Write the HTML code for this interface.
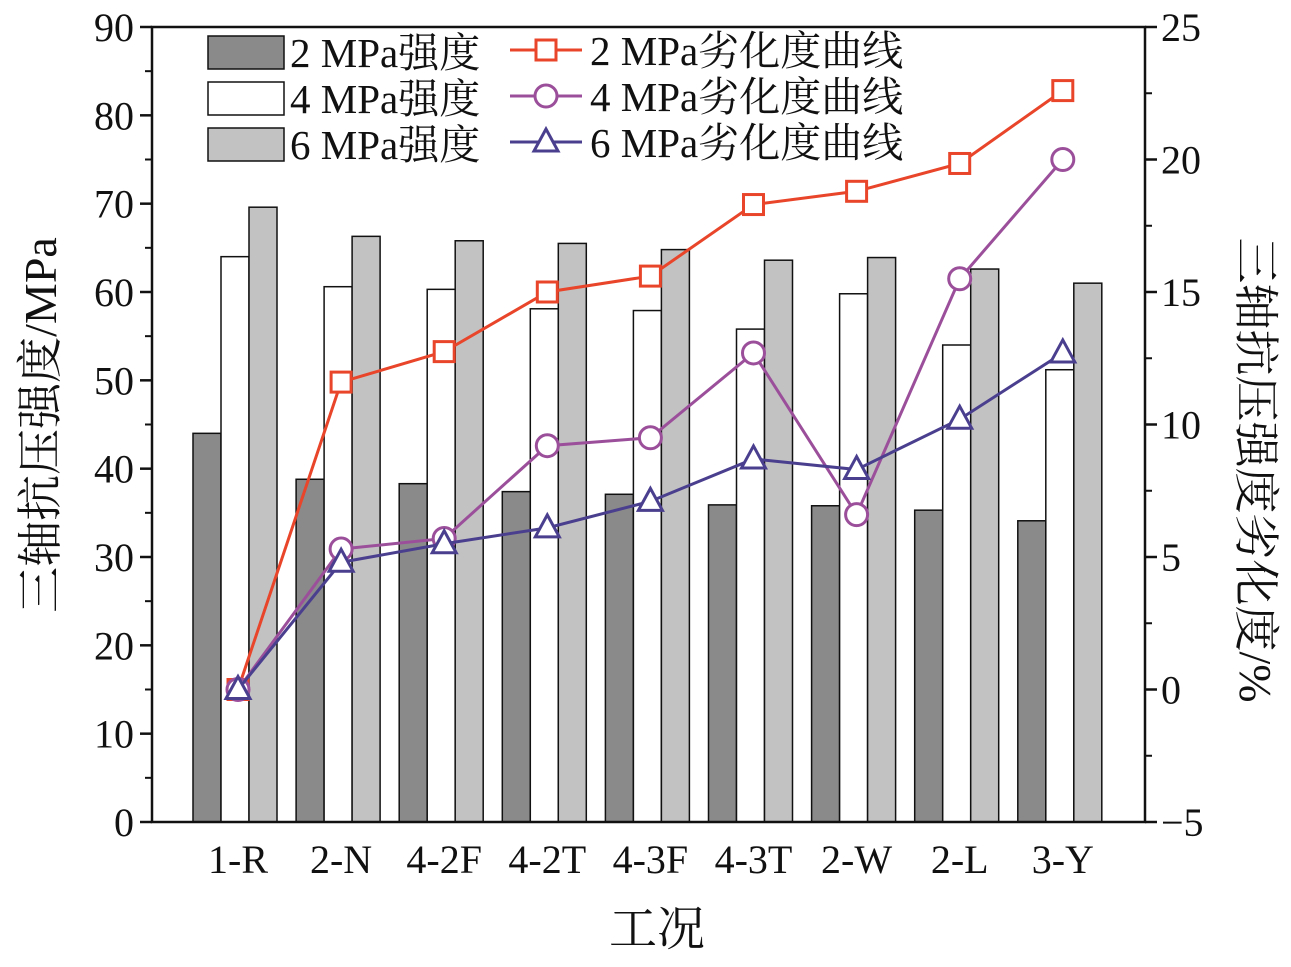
<!DOCTYPE html>
<html><head><meta charset="utf-8"><style>
body{margin:0;background:#fff}
svg text{font-family:"Liberation Serif","Noto Serif CJK SC",serif;fill:#111}
</style></head><body>
<svg id="c" width="1291" height="962" xmlns="http://www.w3.org/2000/svg"></svg>
<script>
const categories=["1-R","2-N","4-2F","4-2T","4-3F","4-3T","2-W","2-L","3-Y"];
const s2=[44,38.8,38.3,37.4,37.1,35.9,35.8,35.3,34.1];
const s4=[64,60.6,60.3,58.1,57.9,55.8,59.8,54,51.2];
const s6=[69.6,66.3,65.8,65.5,64.8,63.6,63.9,62.6,61];
const d2=[0,11.6,12.75,15.0,15.6,18.3,18.8,19.85,22.6];
const d4=[0,5.3,5.7,9.2,9.5,12.7,6.6,15.5,20];
const d6=[0,4.8,5.5,6.1,7.1,8.7,8.3,10.2,12.7];
const leftTicks=[0,10,20,30,40,50,60,70,80,90];
const rightTicks=[-5,0,5,10,15,20,25];
const svg=document.getElementById('c');const NS="http://www.w3.org/2000/svg";
function el(t,a,txt){const e=document.createElementNS(NS,t);for(const k in a)e.setAttribute(k,a[k]);if(txt!==undefined)e.textContent=txt;svg.appendChild(e);return e;}
const L=152,R=1145,T=27,B=822;
const yL=v=>B-(v/90)*(B-T);
const yR=v=>B-((v+5)/30)*(B-T);
const xC=i=>235+i*103.1;
const bw=28;
[[s2,"#8a8a8a","bar-2mpa"],[s4,"#ffffff","bar-4mpa"],[s6,"#c2c2c2","bar-6mpa"]].forEach((s,k)=>{
 s[0].forEach((v,i)=>{const r=el('rect',{x:xC(i)-42+k*bw,y:yL(v),width:bw,height:B-yL(v),fill:s[1],stroke:"#111","stroke-width":1.5});
 });
});
el('rect',{x:L,y:T,width:R-L,height:B-T,fill:"none",stroke:"#111","stroke-width":2.5,});
leftTicks.forEach(v=>{el('line',{x1:L-12,x2:L,y1:yL(v),y2:yL(v),stroke:"#111","stroke-width":2.5});
 const t=el('text',{x:L-18,y:yL(v)+14,"text-anchor":"end","font-size":40},v);
 if(v<90)el('line',{x1:L-7,x2:L,y1:yL(v+5),y2:yL(v+5),stroke:"#111","stroke-width":2});});
rightTicks.forEach(v=>{el('line',{x1:R,x2:R+12,y1:yR(v),y2:yR(v),stroke:"#111","stroke-width":2.5});
 const t=el('text',{x:R+16,y:yR(v)+14,"font-size":40},v<0?"\u2212"+(-v):v);
 if(v<25)el('line',{x1:R,x2:R+7,y1:yR(v+2.5),y2:yR(v+2.5),stroke:"#111","stroke-width":2});});
categories.forEach((c,i)=>{const t=el('text',{x:xC(i)+3,y:873,"text-anchor":"middle","font-size":40},c);});
function marker(type,x,y,col){
 if(type==='sq')return el('rect',{x:x-10,y:y-10,width:20,height:20,fill:"#fff",stroke:col,"stroke-width":3});
 if(type==='ci')return el('circle',{cx:x,cy:y,r:11,fill:"#fff",stroke:col,"stroke-width":3});
 return el('polygon',{points:`${x},${y-13} ${x-12},${y+9} ${x+12},${y+9}`,fill:"#fff",stroke:col,"stroke-width":3});
}
[[d2,"#e8452a","sq","line-2mpa"],[d4,"#9b4f9b","ci","line-4mpa"],[d6,"#4a3f8f","tr","line-6mpa"]].forEach(s=>{
 const p=el('polyline',{points:s[0].map((v,i)=>xC(i)+3+","+yR(v)).join(" "),fill:"none",stroke:s[1],"stroke-width":3});
 
 s[0].forEach((v,i)=>{const m=marker(s[2],xC(i)+3,yR(v),s[1]);});
});
[["2 MPa强度","#8a8a8a"],["4 MPa强度","#ffffff"],["6 MPa强度","#c2c2c2"]].forEach((l,i)=>{
 const y=36+i*46;
 const r=el('rect',{x:208,y:y,width:76,height:33,fill:l[1],stroke:"#111","stroke-width":1.5});
 const t=el('text',{x:290,y:y+31,"font-size":41},l[0]);
});
[["2 MPa劣化度曲线","#e8452a","sq"],["4 MPa劣化度曲线","#9b4f9b","ci"],["6 MPa劣化度曲线","#4a3f8f","tr"]].forEach((l,i)=>{
 const y=50+i*46;
 el('line',{x1:510,x2:582,y1:y,y2:y,stroke:l[1],"stroke-width":3});
 marker(l[2],546,y,l[1]);
 const t=el('text',{x:590,y:y+15,"font-size":41},l[0]);
});
let t=el('text',{x:0,y:0,"font-size":46,"text-anchor":"middle",transform:"translate(56,425) rotate(-90)"},"三轴抗压强度/MPa");
t=el('text',{x:0,y:0,"font-size":46,"text-anchor":"middle",transform:"translate(1240,470) rotate(90)"},"三轴抗压强度劣化度/%");
t=el('text',{x:657,y:945,"font-size":48,"text-anchor":"middle"},"工况");
</script>
</body></html>
